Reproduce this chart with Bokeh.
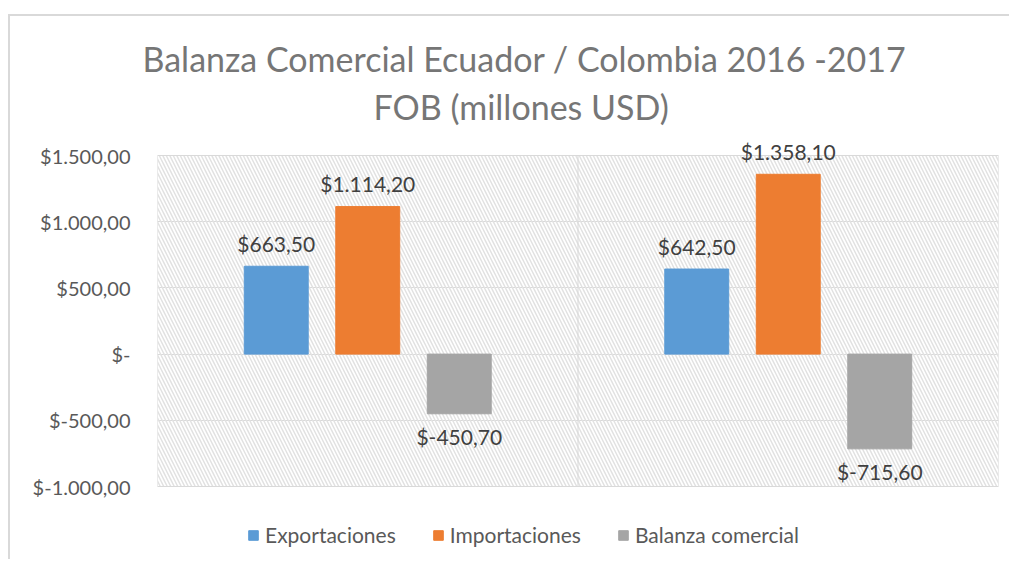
from bokeh.plotting import figure
from bokeh.models import Range1d, FixedTicker, CustomJSTickFormatter, Title
from bokeh.embed import file_html
from bokeh.resources import INLINE

# ---- data ----
categories = ["2016", "2017"]
series_names = ["Exportaciones", "Importaciones", "Balanza comercial"]
exportaciones = [663.5, 642.5]
importaciones = [1114.2, 1358.1]
balanza = [-450.7, -715.6]
y_ticks = [-1000, -500, 0, 500, 1000, 1500]
title_lines = ["Balanza Comercial Ecuador / Colombia 2016 -2017", "FOB (millones USD)"]

colors = ["#5b9bd5", "#ed7d31", "#a5a5a5"]
FONT = "Lato"

# ---- layout (page pixels) ----
PA_TOP, PA_BOTTOM = 155, 486        # visible plot-area edges
FR_TOP, FR_BOTTOM = 130, 561        # bokeh frame edges
k = (y_ticks[-1] - y_ticks[0]) / (PA_BOTTOM - PA_TOP)   # data units per pixel
y_end = y_ticks[-1] + (PA_TOP - FR_TOP) * k
y_start = y_ticks[0] - (FR_BOTTOM - PA_BOTTOM) * k


def fmt(v):
    if v == 0:
        return "$-"
    s = f"{abs(v):,.2f}".replace(",", "X").replace(".", ",").replace("X", ".")
    return "$" + ("-" if v < 0 else "") + s


p = figure(width=1001, height=545, output_backend="svg", toolbar_location=None,
           x_range=Range1d(0, len(categories)), y_range=Range1d(y_start, y_end),
           x_axis_location=None, title=None,
           min_border_left=147, min_border_right=13, min_border_top=FR_TOP - 16,
           min_border_bottom=0,
           background_fill_color="white", border_fill_color="white",
           outline_line_color=None,
           styles={"margin": "14px 0 0 8px", "border-top": "2px solid #d9d9d9",
                   "border-left": "2px solid #d9d9d9"})
p.xgrid.visible = False

# hatched plot area
p.quad(left=[0], right=[len(categories)], bottom=[y_ticks[0]], top=[y_ticks[-1]],
       fill_alpha=0, line_color="#d9d9d9", line_width=1,
       hatch_pattern="left_diagonal_line",
       hatch_color="#e2e2e2", hatch_scale=7, hatch_weight=1.5)

# category divider
p.segment(x0=[1], y0=[y_ticks[0]], x1=[1], y1=[y_ticks[-1]], line_color="#d9d9d9", line_width=1)

offset = 0.2176
bar_w = 0.152
all_series = [exportaciones, importaciones, balanza]
for j, (name, vals) in enumerate(zip(series_names, all_series)):
    xs = [i + 0.5 + (j - 1) * offset for i in range(len(categories))]
    p.vbar(x=xs, top=vals, width=bar_w, color=colors[j], legend_label=name)
    p.text(x=xs, y=vals, text=[fmt(v) for v in vals], text_align="center",
           text_baseline="middle", y_offset=[-23 if v >= 0 else 23 for v in vals],
           text_font={"value": FONT}, text_font_size="21px", text_color="#404040")

# title (two lines)
t2 = Title(text=title_lines[1], align="left", offset=216, standoff=8,
           text_font=FONT, text_font_size="34px", text_color="#767676",
           text_font_style="normal")
t1 = Title(text=title_lines[0], align="left", offset=-15, standoff=2,
           text_font=FONT, text_font_size="34px", text_color="#767676",
           text_font_style="normal")
p.add_layout(t2, "above")
p.add_layout(t1, "above")

# axes / grid
p.yaxis.ticker = FixedTicker(ticks=y_ticks)
p.yaxis.formatter = CustomJSTickFormatter(code="""
if (tick == 0) return "$-";
const neg = tick < 0;
const s = Math.abs(tick).toFixed(2).split(".");
const i = s[0].replace(/\\B(?=(\\d{3})+(?!\\d))/g, ".");
return "$" + (neg ? "-" : "") + i + "," + s[1];
""")
p.yaxis.axis_line_color = None
p.yaxis.major_tick_line_color = None
p.yaxis.minor_tick_line_color = None
p.yaxis.major_tick_out = 0
p.yaxis.major_tick_in = 0
p.yaxis.major_label_standoff = 27
p.yaxis.major_label_text_font = FONT
p.yaxis.major_label_text_font_size = "20px"
p.yaxis.major_label_text_color = "#595959"
p.ygrid.grid_line_color = "#d9d9d9"
p.ygrid.ticker = FixedTicker(ticks=y_ticks)

# legend
lg = p.legend[0]
lg.orientation = "horizontal"
lg.location = (90, 14)
lg.glyph_width = 12
lg.glyph_height = 12
lg.label_standoff = 6
lg.spacing = 36
lg.padding = 0
lg.margin = 0
lg.border_line_alpha = 0
lg.background_fill_alpha = 0
lg.label_text_font = FONT
lg.label_text_font_size = "21px"
lg.label_text_color = "#595959"

open("out.html", "w").write(file_html(p, INLINE))
